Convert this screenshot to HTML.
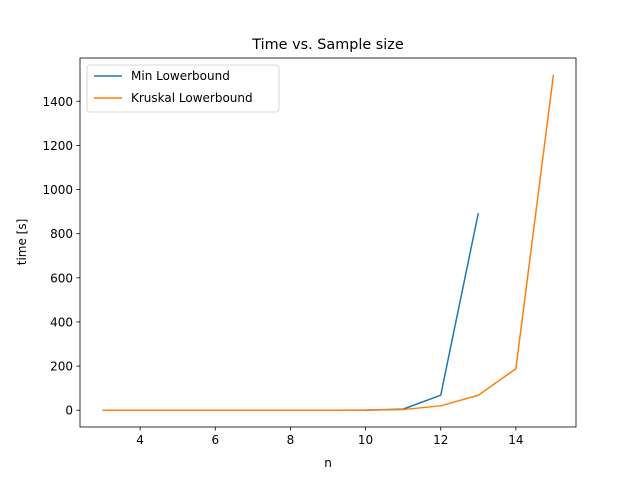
<!DOCTYPE html>
<html><head><meta charset="utf-8"><style>
html,body{margin:0;padding:0;background:#fff;}
svg text{font-family:"DejaVu Sans","Liberation Sans",sans-serif;fill:#000;}
</style></head><body>
<svg id="chart" width="640" height="480" xmlns="http://www.w3.org/2000/svg">
<rect width="640" height="480" fill="#fff"/>
<text x="328" y="49" font-size="14.4" text-anchor="middle">Time vs. Sample size</text>
<g id="plot"></g>
<rect x="80" y="58" width="496" height="369" fill="none" stroke="#000" stroke-width="0.8"/>
<text x="328" y="467" font-size="12" text-anchor="middle">n</text>
<text transform="translate(26,242) rotate(-90)" font-size="12" text-anchor="middle">time [s]</text>
<g>
<rect x="87" y="65" width="192" height="47" rx="3" fill="#fff" stroke="#ccc" stroke-width="0.8"/>
<line x1="94" y1="76" x2="122" y2="76" stroke="#1f77b4" stroke-width="1.5"/>
<text x="131" y="80" font-size="12">Min Lowerbound</text>
<line x1="94" y1="98" x2="122" y2="98" stroke="#ff7f0e" stroke-width="1.5"/>
<text x="131" y="102" font-size="12">Kruskal Lowerbound</text>
</g>
</svg>
<script>
const minN = [3,4,5,6,7,8,9,10,11,12,13];
const minTime = [0,0,0,0,0,0,0,0.5,5,68,893];
const krusN = [3,4,5,6,7,8,9,10,11,12,13,14,15];
const krusTime = [0,0,0,0,0,0,0,0.3,3,20,68,188,1520];
const xTicks = [4,6,8,10,12,14];
const yTicks = [0,200,400,600,800,1000,1200,1400];

const X0=80,X1=576,Y0=427,Y1=58;
const xmin=2.4,xmax=15.6,ymin=-76,ymax=1596;
const sx=v=>X0+(v-xmin)/(xmax-xmin)*(X1-X0);
const sy=v=>Y0-(v-ymin)/(ymax-ymin)*(Y0-Y1);
const NS="http://www.w3.org/2000/svg";
const g=document.getElementById('plot');
function mk(t,a){const e=document.createElementNS(NS,t);for(const k in a)e.setAttribute(k,a[k]);g.appendChild(e);return e;}
xTicks.forEach(v=>{
  const l=mk('line',{x1:sx(v),x2:sx(v),y1:Y0,y2:Y0+3.5,stroke:'#000','stroke-width':0.8});
  
  
  const t=mk('text',{x:sx(v),y:Y0+17,'font-size':12,'text-anchor':'middle'});t.textContent=v;
  
  
});
yTicks.forEach(v=>{
  const l=mk('line',{x1:X0-3.5,x2:X0,y1:sy(v),y2:sy(v),stroke:'#000','stroke-width':0.8});
  
  
  const t=mk('text',{x:X0-7,y:sy(v)+4.5,'font-size':12,'text-anchor':'end'});t.textContent=v;
  
  
});
function series(xs,ys,c,name){
  const p=mk('polyline',{points:xs.map((x,i)=>sx(x)+','+sy(ys[i])).join(' '),fill:'none',stroke:c,'stroke-width':1.5,'stroke-linejoin':'round'});
  
  
}
series(minN,minTime,'#1f77b4','min-lowerbound-line');
series(krusN,krusTime,'#ff7f0e','kruskal-lowerbound-line');
</script>
</body></html>
